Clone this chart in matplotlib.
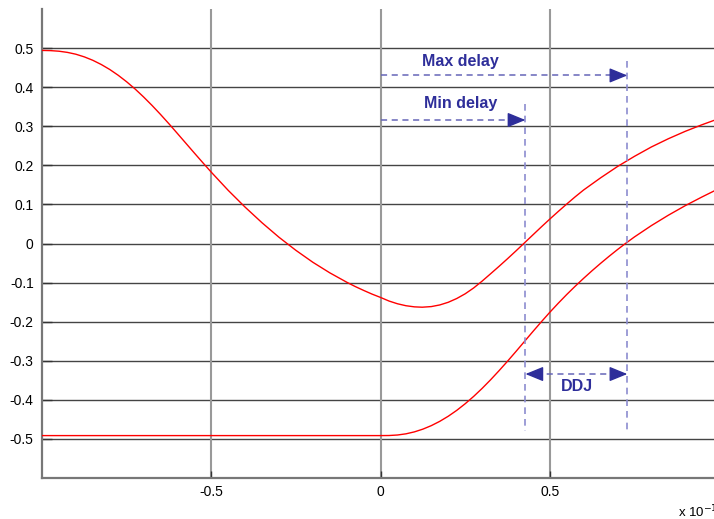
import numpy as np
import matplotlib.pyplot as plt

plt.rcParams['font.family'] = ['Liberation Sans', 'DejaVu Sans']

# upper curve (x in units of 1e-10)
x_up = [-1.0, -0.975, -0.95, -0.925, -0.9, -0.875, -0.85, -0.825, -0.8, -0.775, -0.75, -0.725,
        -0.7, -0.675, -0.65, -0.625, -0.6, -0.575, -0.55, -0.525, -0.5, -0.45, -0.4, -0.35,
        -0.3, -0.25, -0.2, -0.15, -0.1, -0.075, -0.05, -0.025, 0.0, 0.025, 0.05, 0.075, 0.1,
        0.123, 0.15, 0.175, 0.2, 0.225, 0.25, 0.275, 0.3, 0.325, 0.35, 0.375, 0.4, 0.425, 0.45,
        0.475, 0.5, 0.525, 0.55, 0.575, 0.6, 0.65, 0.7, 0.75, 0.8, 0.85, 0.9, 0.95, 0.985]
y_up = [0.494, 0.4935, 0.492, 0.489, 0.4843, 0.4775, 0.4688, 0.458, 0.4453, 0.4305, 0.4138,
        0.3953, 0.375, 0.3533, 0.3303, 0.3063, 0.2815, 0.2565, 0.2315, 0.2068, 0.1825, 0.136,
        0.093, 0.053, 0.016, -0.0175, -0.048, -0.075, -0.099, -0.110, -0.120, -0.1295, -0.138,
        -0.1472, -0.1542, -0.1592, -0.1621, -0.163, -0.1614, -0.1572, -0.1504, -0.1408, -0.1287,
        -0.1138, -0.0963, -0.0775, -0.0585, -0.039, -0.019, 0.0015, 0.022, 0.0425, 0.0625, 0.082,
        0.101, 0.1195, 0.137, 0.168, 0.197, 0.223, 0.247, 0.268, 0.287, 0.304, 0.315]

# lower curve
x_lo = [-1.0, -0.5, 0.0, 0.025, 0.05, 0.075, 0.1, 0.125, 0.15, 0.175, 0.2, 0.225, 0.25, 0.275,
        0.3, 0.325, 0.35, 0.375, 0.4, 0.425, 0.45, 0.475, 0.5, 0.525, 0.55, 0.575, 0.6, 0.625,
        0.65, 0.675, 0.7, 0.725, 0.75, 0.8, 0.85, 0.9, 0.95, 0.985]
y_lo = [-0.4915, -0.4915, -0.4915, -0.4913, -0.490, -0.487, -0.482, -0.475, -0.466, -0.455,
        -0.442, -0.427, -0.410, -0.3913, -0.3708, -0.3488, -0.3255, -0.3013, -0.2763, -0.2508,
        -0.2253, -0.2003, -0.176, -0.1528, -0.1305, -0.1093, -0.089, -0.0695, -0.0508, -0.0328,
        -0.0155, 0.001, 0.0168, 0.0458, 0.0723, 0.0968, 0.1193, 0.1343]

xticks = [-0.5, 0, 0.5]
yticks = [-0.5, -0.4, -0.3, -0.2, -0.1, 0, 0.1, 0.2, 0.3, 0.4, 0.5]

min_delay = 0.428
max_delay = 0.729

fig = plt.figure(figsize=(7.14, 5.19), dpi=100)
ax = fig.add_axes([42/714, 41/519, 1 - 42/714, 469/519])

ax.set_xlim(-1, 0.985)
ax.set_ylim(-0.6, 0.6)

for yv in yticks:
    ax.axhline(yv, color='#444444', lw=1.0, zorder=1)
for xv in xticks:
    ax.axvline(xv, color='#999999', lw=1.5, zorder=1)

ax.plot(x_up, y_up, color='red', lw=1.0, zorder=3)
ax.plot(x_lo, y_lo, color='red', lw=1.0, zorder=3)

blue = '#2e2e9a'
mid = '#6666b8'
light = '#8c8cd0'
dash = (0, (4, 3))

# vertical dashed markers
ax.plot([min_delay, min_delay], [0.357, -0.48], ls=dash, color=light, lw=1.2, zorder=4)
ax.plot([max_delay, max_delay], [0.467, -0.48], ls=dash, color=light, lw=1.2, zorder=4)

# horizontal dashed shafts
ax.plot([0, max_delay - 0.03], [0.43, 0.43], ls=dash, color=mid, lw=1.1, zorder=5)
ax.plot([0, min_delay - 0.03], [0.316, 0.316], ls=dash, color=mid, lw=1.1, zorder=5)
ax.plot([min_delay + 0.03, max_delay - 0.03], [-0.334, -0.334], ls=dash, color=mid, lw=1.1, zorder=5)

# solid arrowheads
head = dict(arrowstyle='-|>,head_length=1.1,head_width=0.45', color=blue, lw=1.0,
            shrinkA=0, shrinkB=0)
for (x0, x1, yv) in [(max_delay - 0.045, max_delay, 0.43), (min_delay - 0.045, min_delay, 0.316),
                     (max_delay - 0.045, max_delay, -0.334), (min_delay + 0.045, min_delay, -0.334)]:
    ax.annotate('', xy=(x1, yv), xytext=(x0, yv), arrowprops=head, zorder=6)

ax.text(0.236, 0.466, 'Max delay', color=blue, fontsize=11.5, fontweight='bold', ha='center', va='center')
ax.text(0.236, 0.357, 'Min delay', color=blue, fontsize=11.5, fontweight='bold', ha='center', va='center')
ax.text(0.58, -0.367, 'DDJ', color=blue, fontsize=11.5, fontweight='bold', ha='center', va='center')

ax.set_xticks(xticks)
ax.set_xticklabels(['-0.5', '0', '0.5'])
ax.set_yticks(yticks)
ax.set_yticklabels(['-0.5', '-0.4', '-0.3', '-0.2', '-0.1', '0', '0.1', '0.2', '0.3', '0.4', '0.5'])
ax.tick_params(axis='y', direction='in', length=7, width=1, colors='#333333', labelcolor='black',
               labelsize=10, pad=6)
ax.tick_params(axis='x', direction='in', length=5, width=1, colors='#333333', labelcolor='black',
               labelsize=10, pad=5)

for s in ['top', 'right']:
    ax.spines[s].set_visible(False)
for s in ['left', 'bottom']:
    ax.spines[s].set_color('#777777')
    ax.spines[s].set_linewidth(1.6)

fig.text(678/714, 1 - 512/519, 'x 10$^{-10}$', fontsize=9.5, ha='left', va='center')

fig.savefig('out.png', dpi=100)
